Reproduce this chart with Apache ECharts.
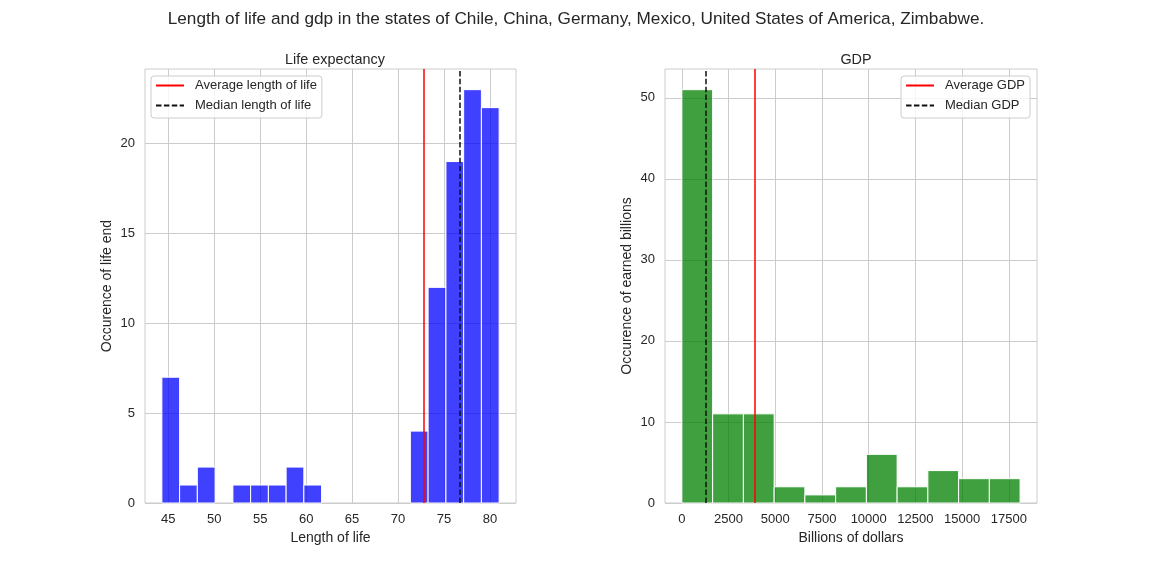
<!DOCTYPE html>
<html>
<head>
<meta charset="utf-8">
<script src="https://cdn.jsdelivr.net/npm/echarts@6/dist/echarts.min.js"></script>
<style>
  html, body { margin: 0; padding: 0; background: #fff; }
  #main { width: 1152px; height: 576px; }
</style>
</head>
<body>
<div id="main"></div>
<script>
// histogram of life expectancy (bin edges + counts)
let lifeEdges = [44.3, 46.23, 48.16, 50.09, 52.03, 53.96, 55.89, 57.82, 59.75, 61.68, 63.62,
    65.55, 67.48, 69.41, 71.34, 73.27, 75.21, 77.14, 79.07, 81.0];
let lifeCounts = [7, 1, 2, 0, 1, 1, 1, 2, 1, 0, 0, 0, 0, 0, 4, 12, 19, 23, 22];
let lifeMean = 72.79;
let lifeMedian = 76.75;
let lifeTicksX = [45, 50, 55, 60, 65, 70, 75, 80];
let lifeTicksY = [0, 5, 10, 15, 20];

// histogram of gdp in billions
let gdpEdges = [4.4, 1649.5, 3294.6, 4939.7, 6584.8, 8229.9, 9875, 11520, 13165, 14810, 16455, 18100];
let gdpCounts = [51, 11, 11, 2, 1, 2, 6, 2, 4, 3, 3];
let gdpMean = 3880;
let gdpMedian = 1300;
let gdpTicksX = [0, 2500, 5000, 7500, 10000, 12500, 15000, 17500];
let gdpTicksY = [0, 10, 20, 30, 40, 50];

let font = 'Arial, "Liberation Sans", sans-serif';
let txt = '#262626';

// [start, end, count]
function toBins(edges, counts) {
    let res = [];
    for (let i = 0; i < counts.length; i++) {
        res.push([edges[i], edges[i + 1], counts[i]]);
    }
    return res;
}

// matplotlib style 5% margins
function pad(lo, hi) {
    let m = (hi - lo) * 0.05;
    return [lo - m, hi + m];
}

function histItem(color) {
    return function (params, api) {
        if (api.value(2) === 0) return null;
        let p0 = api.coord([api.value(0), 0]);
        let p1 = api.coord([api.value(1), api.value(2)]);
        return {
            type: 'rect',
            shape: { x: p0[0], y: p1[1], width: p1[0] - p0[0], height: p0[1] - p1[1] },
            style: { fill: color, stroke: '#fff', lineWidth: 1 }
        };
    };
}

function xAxisOf(idx, range, ticks, name) {
    return {
        type: 'value', gridIndex: idx, min: range[0], max: range[1],
        name: name, nameLocation: 'middle', nameGap: 24,
        nameTextStyle: { color: txt, fontSize: 14, fontFamily: font },
        axisLine: { show: false },
        axisTick: { show: false, customValues: ticks },
        axisLabel: {
            customValues: ticks, color: txt, fontSize: 13, fontFamily: font, margin: 10,
            formatter: (v) => String(v)
        },
        splitLine: { show: true, lineStyle: { color: '#cccccc', width: 1 } }
    };
}

function yAxisOf(idx, max, ticks, name) {
    return {
        type: 'value', gridIndex: idx, min: 0, max: max,
        name: name, nameLocation: 'middle', nameGap: 31,
        nameTextStyle: { color: txt, fontSize: 14, fontFamily: font },
        axisLine: { show: false },
        axisTick: { show: false, customValues: ticks },
        axisLabel: {
            customValues: ticks, color: txt, fontSize: 13, fontFamily: font, margin: 10,
            formatter: (v) => String(v)
        },
        splitLine: { show: true, lineStyle: { color: '#cccccc', width: 1 } }
    };
}

function vline(name, idx, value, color, type) {
    return {
        name: name, type: 'line', xAxisIndex: idx, yAxisIndex: idx,
        data: [], symbol: 'none', color: color,
        lineStyle: { color: color, width: 1.5, type: type },
        markLine: {
            silent: true, symbol: ['none', 'none'], label: { show: false },
            lineStyle: { color: color, width: 1.5, type: type },
            data: [{ xAxis: value }]
        },
        z: 5
    };
}

function legendOf(names, pos) {
    return Object.assign({
        data: names,
        orient: 'vertical', top: 76,
        itemWidth: 28, itemHeight: 14, itemGap: 7, padding: [3, 5, 6, 4],
        itemStyle: { opacity: 0 },
        backgroundColor: 'rgba(255,255,255,0.8)', borderColor: '#cccccc', borderWidth: 1, borderRadius: 3,
        textStyle: { color: txt, fontSize: 13, fontFamily: font, padding: [0, 0, 0, 6] }
    }, pos);
}

let lifeMax = Math.max(...lifeCounts) * 1.05;
let gdpMax = Math.max(...gdpCounts) * 1.05;

let myChart = echarts.init(document.getElementById('main'));
let option = {
    backgroundColor: '#fff',
    animation: false,
    title: [
        {
            text: 'Length of life and gdp in the states of Chile, China, Germany, Mexico, United States of America, Zimbabwe.',
            left: 'center', top: 6,
            textStyle: { color: txt, fontSize: 17.2, fontWeight: 'normal', fontFamily: font }
        },
        {
            text: 'Life expectancy', left: 330, top: 48, textAlign: 'center',
            textStyle: { color: txt, fontSize: 14.4, fontWeight: 'normal', fontFamily: font }
        },
        {
            text: 'GDP', left: 851, top: 48, textAlign: 'center',
            textStyle: { color: txt, fontSize: 14.4, fontWeight: 'normal', fontFamily: font }
        }
    ],
    legend: [
        legendOf(['Average length of life', 'Median length of life'], { left: 151 }),
        legendOf(['Average GDP', 'Median GDP'], { right: 122 })
    ],
    grid: [
        { left: 145, top: 69, width: 371, height: 434, show: true, borderColor: '#cccccc', borderWidth: 1 },
        { left: 665, top: 69, width: 372, height: 434, show: true, borderColor: '#cccccc', borderWidth: 1 }
    ],
    xAxis: [
        xAxisOf(0, pad(lifeEdges[0], lifeEdges[lifeEdges.length - 1]), lifeTicksX, 'Length of life'),
        xAxisOf(1, pad(gdpEdges[0], gdpEdges[gdpEdges.length - 1]), gdpTicksX, 'Billions of dollars')
    ],
    yAxis: [
        yAxisOf(0, lifeMax, lifeTicksY, 'Occurence of life end'),
        yAxisOf(1, gdpMax, gdpTicksY, 'Occurence of earned billions')
    ],
    series: [
        {
            type: 'custom', xAxisIndex: 0, yAxisIndex: 0,
            renderItem: histItem('rgba(0,0,255,0.75)'),
            encode: { x: [0, 1], y: 2 },
            data: toBins(lifeEdges, lifeCounts)
        },
        {
            type: 'custom', xAxisIndex: 1, yAxisIndex: 1,
            renderItem: histItem('rgba(0,128,0,0.75)'),
            encode: { x: [0, 1], y: 2 },
            data: toBins(gdpEdges, gdpCounts)
        },
        vline('Average length of life', 0, lifeMean, 'red', 'solid'),
        vline('Median length of life', 0, lifeMedian, '#111', [5.5, 2.4]),
        vline('Average GDP', 1, gdpMean, 'red', 'solid'),
        vline('Median GDP', 1, gdpMedian, '#111', [5.5, 2.4])
    ]
};
myChart.setOption(option);
</script>
</body>
</html>
